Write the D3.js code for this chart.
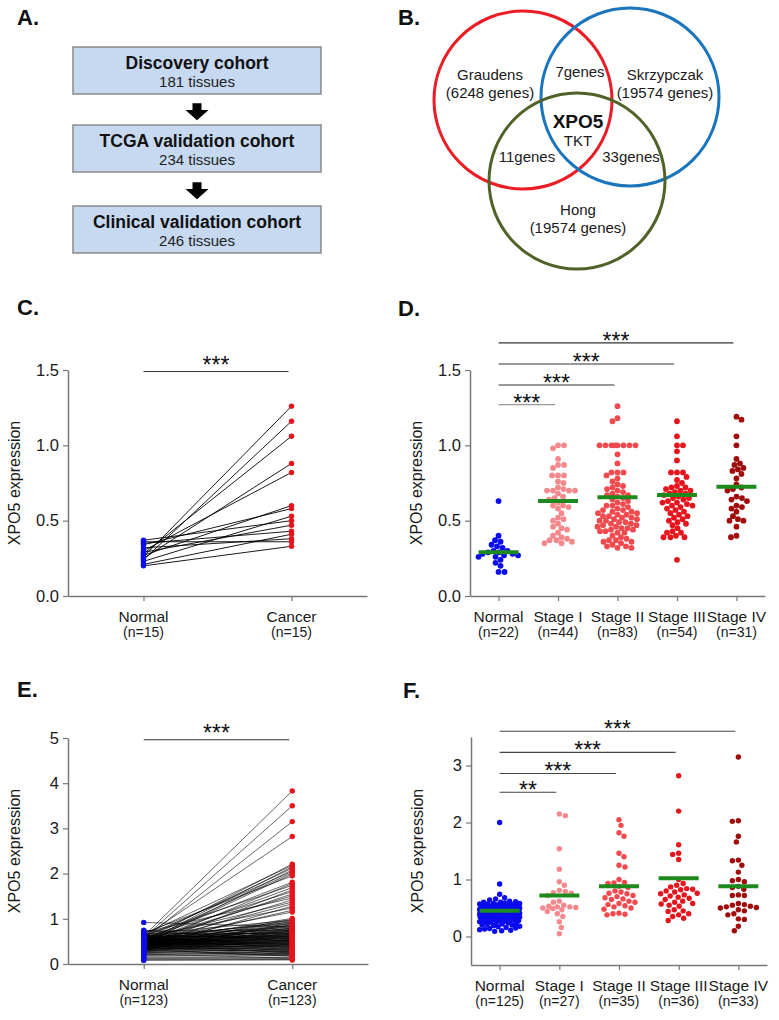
<!DOCTYPE html>
<html><head><meta charset="utf-8">
<script src="https://cdn.jsdelivr.net/npm/d3@7"></script>
<style>
body{margin:0;background:#fff}
svg{display:block}
text{font-family:"Liberation Sans",Arial,sans-serif}
</style>
</head><body>
<svg id="fig" width="779" height="1020"></svg>
<script>
// ---------------- DATA ----------------
const cohortTitles = ["Discovery cohort", "TCGA validation cohort", "Clinical validation cohort"];
const cohortCounts = ["181 tissues", "234 tissues", "246 tissues"];

const vennSets = ["Graudens", "Skrzypczak", "Hong"];
const vennSetSizes = ["(6248 genes)", "(19574 genes)", "(19574 genes)"];
const vennOverlaps = ["7genes", "11genes", "33genes"];
const vennCore = ["XPO5", "TKT"];

const pairedGroups = ["Normal", "Cancer"];
const cCounts = ["(n=15)", "(n=15)"];
const cNormal = [0.26, 0.24, 0.28, 0.25, 0.30, 0.27, 0.34, 0.23, 0.37, 0.29, 0.35, 0.21, 0.32, 0.36, 0.20];
const cCancer = [1.26, 1.16, 1.06, 0.88, 0.82, 0.60, 0.58, 0.53, 0.50, 0.47, 0.43, 0.41, 0.38, 0.36, 0.33];
const cTicks = [0, 0.5, 1.0, 1.5];
const cSig = "***";
const cSigLevel = 1.49;

const stageGroups = ["Normal", "Stage I", "Stage II", "Stage III", "Stage IV"];
const dCounts = ["(n=22)", "(n=44)", "(n=83)", "(n=54)", "(n=31)"];
const dNormal = [0.63, 0.40, 0.37, 0.36, 0.34, 0.33, 0.32, 0.30, 0.30, 0.29, 0.29, 0.28, 0.28, 0.27, 0.27, 0.26, 0.26, 0.24, 0.22, 0.20, 0.16, 0.16];
const dStage1 = [1.00, 1.00, 0.98, 0.91, 0.87, 0.87, 0.85, 0.80, 0.80, 0.80, 0.76, 0.75, 0.72, 0.71, 0.70, 0.70, 0.70, 0.70, 0.68, 0.66, 0.65, 0.64, 0.62, 0.60, 0.60, 0.59, 0.58, 0.55, 0.52, 0.51, 0.50, 0.48, 0.46, 0.45, 0.44, 0.42, 0.40, 0.39, 0.38, 0.37, 0.37, 0.36, 0.35, 0.35];
const dStage2 = [1.26, 1.18, 1.16, 1.00, 1.00, 1.00, 1.00, 1.00, 1.00, 1.00, 1.00, 0.94, 0.88, 0.82, 0.82, 0.82, 0.80, 0.78, 0.76, 0.74, 0.73, 0.72, 0.71, 0.70, 0.69, 0.68, 0.67, 0.67, 0.66, 0.65, 0.64, 0.63, 0.62, 0.61, 0.60, 0.60, 0.59, 0.58, 0.57, 0.57, 0.56, 0.56, 0.55, 0.55, 0.54, 0.54, 0.53, 0.53, 0.52, 0.52, 0.51, 0.51, 0.50, 0.50, 0.49, 0.49, 0.48, 0.48, 0.47, 0.47, 0.46, 0.46, 0.45, 0.45, 0.44, 0.44, 0.43, 0.43, 0.42, 0.42, 0.40, 0.39, 0.38, 0.37, 0.37, 0.36, 0.36, 0.35, 0.34, 0.33, 0.33, 0.32, 0.32];
const dStage3 = [1.16, 1.06, 1.00, 1.00, 0.96, 0.90, 0.82, 0.82, 0.82, 0.79, 0.77, 0.75, 0.73, 0.72, 0.72, 0.71, 0.70, 0.70, 0.69, 0.68, 0.68, 0.67, 0.66, 0.65, 0.65, 0.64, 0.63, 0.62, 0.62, 0.61, 0.60, 0.60, 0.59, 0.58, 0.57, 0.56, 0.55, 0.54, 0.53, 0.52, 0.51, 0.50, 0.49, 0.48, 0.47, 0.45, 0.43, 0.42, 0.42, 0.40, 0.39, 0.39, 0.39, 0.24];
const dStage4 = [1.19, 1.17, 1.06, 1.00, 0.91, 0.88, 0.87, 0.85, 0.84, 0.83, 0.81, 0.78, 0.74, 0.72, 0.71, 0.70, 0.66, 0.65, 0.64, 0.63, 0.60, 0.59, 0.58, 0.56, 0.53, 0.51, 0.50, 0.50, 0.46, 0.40, 0.39];
const dMeans = [0.29, 0.63, 0.655, 0.67, 0.725];
const dSig = ["***", "***", "***", "***"];
const dSigLevels = [1.27, 1.40, 1.54, 1.68];

const eCounts = ["(n=123)", "(n=123)"];
const eCancer = [3.83, 3.50, 3.15, 2.82,
  2.21, 2.18, 2.15, 2.12, 2.08, 2.05, 2.02, 1.99, 1.95,
  1.81, 1.78, 1.74, 1.69, 1.64, 1.60, 1.55, 1.51, 1.46, 1.42, 1.37, 1.33, 1.28, 1.24, 1.19, 1.15,
  1.01, 0.99, 0.97, 0.96, 0.94, 0.93, 0.91, 0.90, 0.89, 0.87,
  0.86, 0.85, 0.83, 0.82, 0.81, 0.80, 0.79, 0.78, 0.77, 0.76,
  0.75, 0.74, 0.73, 0.72, 0.72, 0.71, 0.70, 0.69, 0.68, 0.67,
  0.67, 0.66, 0.65, 0.64, 0.64, 0.63, 0.62, 0.61, 0.61, 0.60,
  0.59, 0.58, 0.58, 0.57, 0.56, 0.55, 0.55, 0.54, 0.53, 0.52,
  0.52, 0.51, 0.50, 0.49, 0.49, 0.48, 0.47, 0.46, 0.46, 0.45,
  0.44, 0.43, 0.43, 0.42, 0.41, 0.40, 0.39, 0.39, 0.38, 0.37,
  0.36, 0.35, 0.34, 0.33, 0.32, 0.31, 0.30, 0.29, 0.28, 0.27,
  0.26, 0.25, 0.24, 0.23, 0.22, 0.21, 0.20, 0.19, 0.17, 0.15,
  0.13, 0.12, 0.10, 0.09];
const eNormal = [0.62, 0.58, 0.55, 0.60,
  0.52, 0.65, 0.48, 0.57, 0.44, 0.61, 0.50, 0.46, 0.68,
  0.55, 0.42, 0.63, 0.49, 0.38, 0.58, 0.45, 0.52, 0.70, 0.40, 0.56, 0.47, 0.35, 0.60, 0.43, 0.51,
  0.48, 0.39, 0.66, 0.53, 0.44, 0.57, 0.31, 0.61, 0.50, 0.42,
  0.36, 0.55, 0.47, 0.92, 0.63, 0.40, 0.52, 0.58, 0.45, 0.34,
  0.49, 0.73, 0.41, 0.56, 0.38, 0.60, 0.46, 0.33, 0.54, 0.43,
  0.67, 0.37, 0.51, 0.44, 0.59, 0.30, 0.48, 0.53, 0.39, 0.62,
  0.45, 0.35, 0.57, 0.42, 0.50, 0.28, 0.64, 0.47, 0.40, 0.55,
  0.33, 0.52, 0.44, 0.75, 0.37, 0.49, 0.41, 0.58, 0.29, 0.46,
  0.54, 0.36, 0.43, 0.60, 0.32, 0.48, 0.39, 0.51, 0.27, 0.45,
  0.56, 0.34, 0.42, 0.25, 0.50, 0.38, 0.31, 0.47, 0.23, 0.40,
  0.35, 0.21, 0.44, 0.29, 0.19, 0.37, 0.26, 0.17, 0.32, 0.14,
  0.22, 0.12, 0.10, 0.08];
const eTicks = [0, 1, 2, 3, 4, 5];
const eSig = "***";
const eSigLevel = 4.96;

const fCounts = ["(n=125)", "(n=27)", "(n=35)", "(n=36)", "(n=33)"];
const fNormal = [2.00, 0.92, 0.74, 0.68, 0.66, 0.64, 0.62, 0.61, 0.60, 0.60,
  0.59, 0.58, 0.58, 0.57, 0.57, 0.56, 0.56, 0.55, 0.55, 0.55,
  0.54, 0.54, 0.53, 0.53, 0.53, 0.52, 0.52, 0.52, 0.51, 0.51,
  0.51, 0.50, 0.50, 0.50, 0.50, 0.49, 0.49, 0.49, 0.48, 0.48,
  0.48, 0.47, 0.47, 0.47, 0.46, 0.46, 0.46, 0.46, 0.45, 0.45,
  0.45, 0.44, 0.44, 0.44, 0.44, 0.43, 0.43, 0.43, 0.42, 0.42,
  0.42, 0.42, 0.41, 0.41, 0.41, 0.40, 0.40, 0.40, 0.40, 0.39,
  0.39, 0.39, 0.38, 0.38, 0.38, 0.37, 0.37, 0.37, 0.36, 0.36,
  0.36, 0.35, 0.35, 0.35, 0.34, 0.34, 0.34, 0.33, 0.33, 0.33,
  0.32, 0.32, 0.31, 0.31, 0.30, 0.30, 0.29, 0.29, 0.28, 0.28,
  0.27, 0.27, 0.26, 0.26, 0.25, 0.25, 0.24, 0.23, 0.22, 0.21,
  0.20, 0.20, 0.19, 0.18, 0.17, 0.16, 0.15, 0.14, 0.13, 0.12,
  0.11, 0.10, 0.09, 0.31, 0.47];
const fStage1 = [2.15, 2.12, 1.54, 1.18, 0.96, 0.90, 0.81, 0.79, 0.77, 0.76, 0.72, 0.62, 0.60, 0.55, 0.53, 0.52, 0.52, 0.51, 0.50, 0.49, 0.47, 0.44, 0.40, 0.35, 0.26, 0.16, 0.05];
const fStage2 = [2.05, 1.95, 1.82, 1.76, 1.46, 1.40, 1.25, 1.22, 1.00, 0.95, 0.94, 0.93, 0.88, 0.86, 0.80, 0.78, 0.76, 0.75, 0.72, 0.70, 0.68, 0.66, 0.65, 0.62, 0.60, 0.58, 0.56, 0.54, 0.52, 0.50, 0.48, 0.41, 0.40, 0.39, 0.38];
const fStage3 = [2.82, 2.20, 1.61, 1.46, 1.44, 1.35, 1.00, 0.93, 0.90, 0.87, 0.84, 0.83, 0.82, 0.80, 0.78, 0.76, 0.75, 0.73, 0.71, 0.69, 0.67, 0.65, 0.62, 0.60, 0.58, 0.57, 0.55, 0.53, 0.47, 0.45, 0.44, 0.40, 0.38, 0.35, 0.32, 0.28];
const fStage4 = [3.15, 2.03, 2.02, 1.76, 1.66, 1.34, 1.33, 1.25, 1.13, 1.00, 0.98, 0.96, 0.88, 0.86, 0.83, 0.73, 0.72, 0.72, 0.58, 0.56, 0.55, 0.53, 0.52, 0.51, 0.50, 0.47, 0.45, 0.40, 0.38, 0.31, 0.30, 0.18, 0.10];
const fMeans = [0.45, 0.72, 0.88, 1.02, 0.88];
const fTicks = [0, 1, 2, 3];
const fSig = ["**", "***", "***", "***"];
const fSigLevels = [2.53, 2.86, 3.23, 3.60];

const yLabel = "XPO5 expression";
const panelLetters = ["A.", "B.", "C.", "D.", "E.", "F."];

// ---------------- STYLE ----------------
const stageColors = ["#0b0bef", "#f4898d", "#f04a4f", "#e6141c", "#a00c0c"];
const pairColors = ["#0b0bef", "#e6141c"];
const meanColor = "#1d8a1d";
const axisColor = "#777";
const textColor = "#1a1a1a";

const svg = d3.select("#fig");
svg.append("rect").attr("width", 779).attr("height", 1020).attr("fill", "#fff");

// panel letters
const letterPos = [[17, 25], [398, 25], [17, 315], [398, 316], [17, 697], [403, 698]];
svg.selectAll("text.letter").data(panelLetters).join("text")
  .attr("class", "letter")
  .attr("x", (d, i) => letterPos[i][0]).attr("y", (d, i) => letterPos[i][1])
  .attr("font-size", 22).attr("font-weight", "bold").attr("fill", "#111").text(d => d);

// ---------------- PANEL A ----------------
(function () {
  const g = svg.append("g");
  const bx = 73, bw = 248, bh = 47;
  const tops = [47, 125, 206];
  const cx = bx + bw / 2;
  cohortTitles.forEach((t, i) => {
    g.append("rect").attr("x", bx).attr("y", tops[i]).attr("width", bw).attr("height", bh)
      .attr("fill", "#c6d9f1").attr("stroke", "#8a8a8a").attr("stroke-width", 1.5);
    g.append("text").attr("x", cx).attr("y", tops[i] + 22).attr("text-anchor", "middle")
      .attr("font-size", 17.5).attr("font-weight", "bold").attr("fill", "#111").text(t);
    g.append("text").attr("x", cx).attr("y", tops[i] + 40).attr("text-anchor", "middle")
      .attr("font-size", 15).attr("fill", "#222").text(cohortCounts[i]);
  });
  for (let i = 0; i < 2; i++) {
    const b0 = tops[i] + bh, b1 = tops[i + 1];
    const t = b0 + (b1 - b0) * 0.3, h = 17, hs = t + h * 0.4;
    const pts = [[cx - 4.5, t], [cx + 4.5, t], [cx + 4.5, hs], [cx + 11.5, hs], [cx, t + h], [cx - 11.5, hs], [cx - 4.5, hs]];
    g.append("path").attr("d", d3.line()(pts) + "Z").attr("fill", "#000");
  }
})();

// ---------------- PANEL B ----------------
(function () {
  const g = svg.append("g");
  const circles = [
    { cx: 523, cy: 100, r: 89, color: "#ec1c24" },
    { cx: 630, cy: 97, r: 89, color: "#1b75bc" },
    { cx: 577, cy: 181, r: 88, color: "#4f6228" }
  ];
  g.selectAll("circle").data(circles).join("circle")
    .attr("cx", d => d.cx).attr("cy", d => d.cy).attr("r", d => d.r)
    .attr("fill", "none").attr("stroke", d => d.color).attr("stroke-width", 3);
  const fs = 15;
  const setPos = [[490, 80], [665, 80], [578, 215]];
  vennSets.forEach((s, i) => {
    g.append("text").attr("x", setPos[i][0]).attr("y", setPos[i][1]).attr("text-anchor", "middle")
      .attr("font-size", fs).attr("fill", textColor).text(s);
    g.append("text").attr("x", setPos[i][0]).attr("y", setPos[i][1] + 18).attr("text-anchor", "middle")
      .attr("font-size", fs).attr("fill", textColor).text(vennSetSizes[i]);
  });
  const ovPos = [[580, 77], [527, 162], [631, 162]];
  vennOverlaps.forEach((s, i) => {
    g.append("text").attr("x", ovPos[i][0]).attr("y", ovPos[i][1]).attr("text-anchor", "middle")
      .attr("font-size", fs).attr("fill", textColor).text(s);
  });
  g.append("text").attr("x", 578).attr("y", 128).attr("text-anchor", "middle")
    .attr("font-size", 19).attr("font-weight", "bold").attr("fill", "#111").text(vennCore[0]);
  g.append("text").attr("x", 578).attr("y", 146).attr("text-anchor", "middle")
    .attr("font-size", fs).attr("fill", textColor).text(vennCore[1]);
})();

// ---------------- helpers ----------------
function swarm(vals, y, minD, cap) {
  const pts = vals.map(v => ({ v, y: y(v), dx: 0 })).sort((a, b) => b.v - a.v);
  const placed = [];
  pts.forEach((p, i) => {
    let chosen = null, best = -1, bestOff = 0;
    for (let k = 0; k <= cap && chosen === null; k += 0.5) {
      const offs = k === 0 ? [0] : (i % 2 ? [k, -k] : [-k, k]);
      for (const o of offs) {
        let m = Infinity;
        for (const q of placed) {
          const dd = Math.hypot(o - q.dx, p.y - q.y);
          if (dd < m) m = dd;
        }
        if (m >= minD) { chosen = o; break; }
        if (m > best) { best = m; bestOff = o; }
      }
    }
    p.dx = chosen === null ? bestOff : chosen;
    placed.push(p);
  });
  return pts;
}

function drawAxes(g, x, y, ticks, fmt, groups, counts, tickFs) {
  const [y0, y1] = y.range();
  const ax = g.append("g").attr("transform", `translate(0,${y0})`)
    .call(d3.axisBottom(x).tickSize(5).tickSizeOuter(0).tickFormat(""));
  const ay = g.append("g").attr("transform", `translate(${x.range()[0]},0)`)
    .call(d3.axisLeft(y).tickValues(ticks).tickFormat(fmt).tickSize(5).tickSizeOuter(0).tickPadding(4));
  [ax, ay].forEach(a => {
    a.select(".domain").attr("stroke", axisColor).attr("stroke-width", 1.5);
    a.selectAll(".tick line").attr("stroke", axisColor).attr("stroke-width", 1.2);
    a.selectAll(".tick text").attr("font-size", tickFs).attr("fill", textColor)
      .attr("font-family", '"Liberation Sans",Arial,sans-serif');
  });
  groups.forEach((c, i) => {
    g.append("text").attr("x", x(c)).attr("y", y0 + 26).attr("text-anchor", "middle")
      .attr("font-size", 15.5).attr("fill", textColor).text(c);
    g.append("text").attr("x", x(c)).attr("y", y0 + 41).attr("text-anchor", "middle")
      .attr("font-size", 14).attr("fill", textColor).text(counts[i]);
  });
  const ax0 = x.range()[0];
  g.append("text").attr("transform", `translate(${ax0 - 48},${(y0 + y1) / 2}) rotate(-90)`)
    .attr("text-anchor", "middle").attr("font-size", 16).attr("fill", textColor).text(yLabel);
}

function sigBar(g, x0, x1, yy, label, color, gap) {
  g.append("line").attr("x1", x0).attr("x2", x1).attr("y1", yy).attr("y2", yy)
    .attr("stroke", color).attr("stroke-width", 1.1);
  g.append("text").attr("x", (x0 + x1) / 2).attr("y", yy + gap).attr("text-anchor", "middle")
    .attr("font-size", 23).attr("fill", "#111").text(label);
}

// ---------------- PANEL C / E (paired) ----------------
function pairedPanel(normal, cancer, xr, yr, dom, ticks, fmt, counts, sigLabel, sigLevel, lw) {
  const g = svg.append("g");
  const x = d3.scalePoint().domain(pairedGroups).range(xr).padding(0.51);
  const y = d3.scaleLinear().domain(dom).range(yr);
  drawAxes(g, x, y, ticks, fmt, pairedGroups, counts, 16.5);
  const pairs = normal.map((v, i) => [v, cancer[i]]);
  g.append("g").selectAll("line").data(pairs).join("line")
    .attr("x1", x("Normal")).attr("x2", x("Cancer"))
    .attr("y1", d => y(d[0])).attr("y2", d => y(d[1]))
    .attr("stroke", "#000").attr("stroke-width", lw);
  [normal, cancer].forEach((arr, k) => {
    g.append("g").selectAll("circle").data(arr).join("circle")
      .attr("cx", x(pairedGroups[k])).attr("cy", d => y(d)).attr("r", 2.7)
      .attr("fill", pairColors[k]);
  });
  sigBar(g, x("Normal"), x("Cancer") - 3, y(sigLevel), sigLabel, "#333", 1);
}
pairedPanel(cNormal, cCancer, [68, 367], [596, 370], [0, 1.5], cTicks, d3.format(".1f"), cCounts, cSig, cSigLevel, 0.9);
pairedPanel(eNormal, eCancer, [68, 368], [964, 738], [0, 5], eTicks, d3.format("d"), eCounts, eSig, eSigLevel, 0.6);

// ---------------- PANEL D / F (stages) ----------------
function stagePanel(groupsData, means, xr, yr, dom, ticks, fmt, counts, sigs, sigLevels, sigColors, minD, r) {
  const g = svg.append("g");
  const x = d3.scalePoint().domain(stageGroups).range(xr).padding(0.48);
  const y = d3.scaleLinear().domain(dom).range(yr);
  drawAxes(g, x, y, ticks, fmt, stageGroups, counts, 16.5);
  groupsData.forEach((vals, i) => {
    const pts = swarm(vals, y, minD, 20);
    g.append("g").selectAll("circle").data(pts).join("circle")
      .attr("cx", d => x(stageGroups[i]) + d.dx).attr("cy", d => d.y).attr("r", r)
      .attr("fill", stageColors[i]);
  });
  g.append("g").selectAll("line").data(means).join("line")
    .attr("x1", (d, i) => x(stageGroups[i]) - 20).attr("x2", (d, i) => x(stageGroups[i]) + 20)
    .attr("y1", d => y(d)).attr("y2", d => y(d))
    .attr("stroke", meanColor).attr("stroke-width", 4);
  sigs.forEach((s, i) => {
    sigBar(g, x("Normal"), x(stageGroups[i + 1]) - 3, y(sigLevels[i]), s, sigColors[i], 6);
  });
}
stagePanel([dNormal, dStage1, dStage2, dStage3, dStage4], dMeans, [470, 765], [596, 370], [0, 1.5], cTicks,
  d3.format(".1f"), dCounts, dSig, dSigLevels, ["#999", "#333", "#333", "#333"], 5.6, 2.9);
stagePanel([fNormal, fStage1, fStage2, fStage3, fStage4], fMeans, [471, 767], [965, 737], [-0.5, 3.5], fTicks,
  d3.format("d"), fCounts, fSig, fSigLevels, ["#444", "#444", "#444", "#444"], 6.0, 2.7);
</script>
</body></html>
